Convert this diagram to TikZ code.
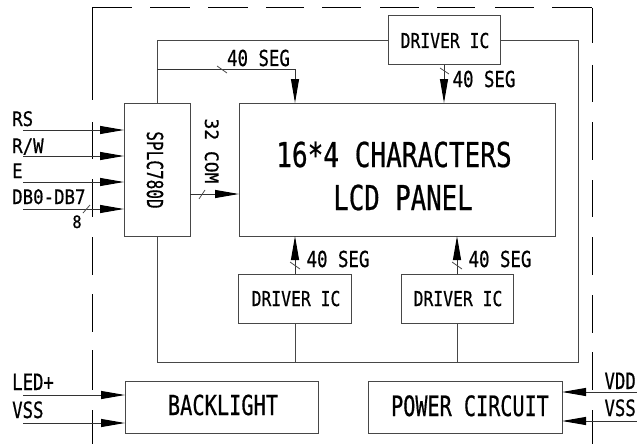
\documentclass[tikz,border=0pt]{standalone}
\usepackage{fontspec}
\usepackage{graphicx}
\setmainfont{DejaVu Sans Mono}[UprightFeatures={FakeBold=0.7}]
\usetikzlibrary{arrows.meta,calc}
\newcommand\ft[3]{{\fontsize{#1}{#1}\selectfont\scalebox{#2}[1]{#3}}}
\begin{document}
\begin{tikzpicture}[x=1pt,y=-1pt,
  box/.style={draw=black!72, line width=1pt, inner sep=0pt, outer sep=0pt},
  wire/.style={draw=black!72, line width=1pt},
  arr/.style={draw=black!80, line width=1pt, -{Triangle[length=24pt,width=8pt,color=black]}},
  tick/.style={draw=black!70, line width=0.8pt},
  frame/.style={draw=black, line width=1pt},
  lbl/.style={inner sep=0pt, anchor=base}]
\useasboundingbox (0,0) rectangle (637,444);
% dashed frame
\foreach \a/\b in {8/100,122/159,179/217,237/275,294/332,350/390,410/444}
  \draw[frame] (92,\a) -- (92,\b);
\foreach \a/\b in {8/43,65/102,122/160,180/217,237/275,295/333,352/390,410/444}
  \draw[frame] (592,\a) -- (592,\b);
\foreach \a/\b in {92/132,150/190,208/248,266/304,322/361,380/419,437/475,495/534,552/592}
  \draw[frame] (\a,8) -- (\b,8);
% boxes
\node[box, minimum width=66pt, minimum height=133pt] (ctl) at (157,169.5) {};
\node[box, minimum width=316pt, minimum height=133pt] (lcd) at (397,169.5) {};
\node[box, minimum width=112pt, minimum height=49pt] (drvT) at (444,40.5) {};
\node[box, minimum width=113pt, minimum height=49pt] (drvL) at (295,298.5) {};
\node[box, minimum width=112pt, minimum height=49pt] (drvR) at (457,298.5) {};
\node[box, minimum width=193pt, minimum height=52pt] (bl) at (221.5,407) {};
\node[box, minimum width=194pt, minimum height=52pt] (pwr) at (465,407) {};
% texts in boxes
\node[lbl] (tctl) at (147,170) [rotate=-90] {\ft{22}{0.73}{SPLC780D}};
\node[lbl] (tl1) at (394,167) {\ft{34.3}{0.76}{16*4 CHARACTERS}};
\node[lbl] (tl2) at (403,210) {\ft{34.3}{0.75}{LCD PANEL}};
\node[lbl] (tdT) at (445,48) {\ft{20.5}{0.8}{DRIVER IC}};
\node[lbl] (tdL) at (296,306) {\ft{20.5}{0.8}{DRIVER IC}};
\node[lbl] (tdR) at (458,306) {\ft{20.5}{0.8}{DRIVER IC}};
\node[lbl] (tbl) at (223,415) {\ft{27.5}{0.74}{BACKLIGHT}};
\node[lbl] (tpw) at (470,416) {\ft{28}{0.72}{POWER CIRCUIT}};
% bus loop
\coordinate (cR) at (578,362);
\draw[wire] (ctl.north) |- (drvT.west);
\draw[wire] (drvT.east) -| (cR) -| (ctl.south);
\draw[wire] (drvL.south) -- (drvL.south |- cR);
\draw[wire] (drvR.south) -- (drvR.south |- cR);
% 40 SEG arrows
\coordinate (segL) at (157,70);
\draw[arr] (segL) -| (drvL.north |- lcd.north);
\draw[arr] (drvT.south) -- (drvT.south |- lcd.north);
\draw[arr] (drvL.north) -- (drvL.north |- lcd.south);
\draw[arr] (drvR.north) -- (drvR.north |- lcd.south);
\draw[tick] (217,66) -- (227,73);
\draw[tick] (440,68) -- (449,74);
\draw[tick] (290,262) -- (300,269);
\draw[tick] (452,262) -- (462,269);
\node[lbl] (s1) at (258.5,66) {\ft{22}{0.79}{40 SEG}};
\node[lbl] (s2) at (484,87) {\ft{22}{0.79}{40 SEG}};
\node[lbl] (s3) at (338,267) {\ft{22}{0.79}{40 SEG}};
\node[lbl] (s4) at (500,267) {\ft{22}{0.79}{40 SEG}};
% 32 COM
\coordinate (com) at (190,194);
\draw[arr] (com) -- (com -| lcd.west);
\draw[tick] (199,199) -- (205,190);
\node[lbl] (tcom) at (205,151) [rotate=-90] {\ft{18.5}{0.97}{32 COM}};
% inputs
\coordinate (i1) at (23,130);
\coordinate (i2) at (23,156);
\coordinate (i3) at (23,182);
\coordinate (i4) at (23,209);
\draw[arr] (i1) -- (i1 -| ctl.west);
\draw[arr] (i2) -- (i2 -| ctl.west);
\draw[arr] (i3) -- (i3 -| ctl.west);
\draw[arr] (i4) -- (i4 -| ctl.west);
\draw[tick] (83,213) -- (90,205);
\node[lbl, anchor=base west] (tRS) at (12,126) {\ft{20}{0.87}{RS}};
\node[lbl, anchor=base west] (tRW) at (12,153) {\ft{20}{0.87}{R/W}};
\node[lbl, anchor=base west] (tE) at (12,178) {\ft{20}{0.87}{E}};
\node[lbl, anchor=base west] (tDB) at (12,204) {\ft{20}{0.87}{DB0-DB7}};
\node[lbl] (t8) at (77,228) {\ft{17}{0.9}{8}};
% backlight inputs
\coordinate (l1) at (23,395);
\coordinate (l2) at (23,423);
\draw[arr] (l1) -- (l1 -| bl.west);
\draw[arr] (l2) -- (l2 -| bl.west);
\node[lbl, anchor=base west] (tLED) at (12,390) {\ft{22.5}{0.77}{LED+}};
\node[lbl, anchor=base west] (tVSS1) at (12,418) {\ft{22.5}{0.77}{VSS}};
% power inputs
\coordinate (p1) at (637,392);
\coordinate (p2) at (637,421);
\draw[arr] (p1) -- (p1 -| pwr.east);
\draw[arr] (p2) -- (p2 -| pwr.east);
\node[lbl, anchor=base east] (tVDD) at (636,389) {\ft{22.5}{0.77}{VDD}};
\node[lbl, anchor=base east] (tVSS2) at (636,416) {\ft{22.5}{0.77}{VSS}};
\end{tikzpicture}
\end{document}
